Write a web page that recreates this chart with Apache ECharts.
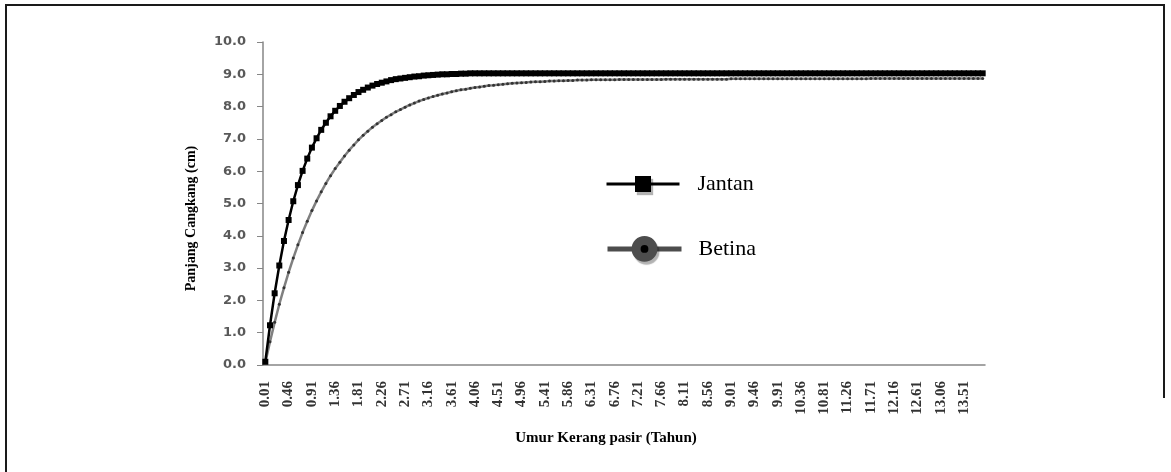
<!DOCTYPE html>
<html>
<head>
<meta charset="utf-8">
<script src="https://cdn.jsdelivr.net/npm/echarts@6/dist/echarts.min.js"></script>
<style>
html,body{margin:0;padding:0;background:#fff;}
#chart{width:1171px;height:472px;}
</style>
</head>
<body>
<div id="chart"></div>
<script>
var categories = [
"0.01","0.10","0.19","0.28","0.37","0.46","0.55","0.64","0.73","0.82",
"0.91","1.00","1.09","1.18","1.27","1.36","1.45","1.54","1.63","1.72",
"1.81","1.90","1.99","2.08","2.17","2.26","2.35","2.44","2.53","2.62",
"2.71","2.80","2.89","2.98","3.07","3.16","3.25","3.34","3.43","3.52",
"3.61","3.70","3.79","3.88","3.97","4.06","4.15","4.24","4.33","4.42",
"4.51","4.60","4.69","4.78","4.87","4.96","5.05","5.14","5.23","5.32",
"5.41","5.50","5.59","5.68","5.77","5.86","5.95","6.04","6.13","6.22",
"6.31","6.40","6.49","6.58","6.67","6.76","6.85","6.94","7.03","7.12",
"7.21","7.30","7.39","7.48","7.57","7.66","7.75","7.84","7.93","8.02",
"8.11","8.20","8.29","8.38","8.47","8.56","8.65","8.74","8.83","8.92",
"9.01","9.10","9.19","9.28","9.37","9.46","9.55","9.64","9.73","9.82",
"9.91","10.00","10.09","10.18","10.27","10.36","10.45","10.54","10.63","10.72",
"10.81","10.90","10.99","11.08","11.17","11.26","11.35","11.44","11.53","11.62",
"11.71","11.80","11.89","11.98","12.07","12.16","12.25","12.34","12.43","12.52",
"12.61","12.70","12.79","12.88","12.97","13.06","13.15","13.24","13.33","13.42",
"13.51","13.60","13.69","13.78","13.87"
];

var jantan = [
0.10,1.23,2.22,3.08,3.84,4.49,5.07,5.57,6.01,6.39,
6.73,7.02,7.28,7.50,7.70,7.87,8.02,8.15,8.26,8.36,
8.45,8.52,8.59,8.65,8.70,8.74,8.78,8.82,8.85,8.87,
8.89,8.91,8.93,8.94,8.96,8.97,8.98,8.99,9.00,9.00,
9.01,9.01,9.02,9.02,9.03,9.03,9.03,9.03,9.03,9.03,
9.03,9.03,9.03,9.03,9.03,9.03,9.03,9.03,9.03,9.03,
9.03,9.03,9.03,9.03,9.03,9.03,9.03,9.03,9.03,9.03,
9.03,9.03,9.03,9.03,9.03,9.03,9.03,9.03,9.03,9.03,
9.03,9.03,9.03,9.03,9.03,9.03,9.03,9.03,9.03,9.03,
9.03,9.03,9.03,9.03,9.03,9.03,9.03,9.03,9.03,9.03,
9.03,9.03,9.03,9.03,9.03,9.03,9.03,9.03,9.03,9.03,
9.03,9.03,9.03,9.03,9.03,9.03,9.03,9.03,9.03,9.03,
9.03,9.03,9.03,9.03,9.03,9.03,9.03,9.03,9.03,9.03,
9.03,9.03,9.03,9.03,9.03,9.03,9.03,9.03,9.03,9.03,
9.03,9.03,9.03,9.03,9.03,9.03,9.03,9.03,9.03,9.03,
9.03,9.03,9.03,9.03,9.03
];

var betina = [
0.08,0.72,1.32,1.88,2.39,2.87,3.31,3.72,4.10,4.45,
4.78,5.08,5.36,5.62,5.86,6.08,6.28,6.47,6.65,6.81,
6.97,7.11,7.24,7.36,7.47,7.57,7.67,7.75,7.84,7.91,
7.98,8.05,8.11,8.17,8.22,8.27,8.31,8.35,8.39,8.42,
8.46,8.49,8.52,8.54,8.57,8.59,8.61,8.63,8.65,8.66,
8.68,8.69,8.71,8.72,8.73,8.74,8.75,8.76,8.77,8.77,
8.78,8.79,8.79,8.80,8.80,8.81,8.81,8.82,8.82,8.82,
8.83,8.83,8.83,8.83,8.83,8.83,8.84,8.84,8.84,8.84,
8.84,8.84,8.84,8.84,8.84,8.84,8.85,8.85,8.85,8.85,
8.85,8.85,8.85,8.85,8.85,8.85,8.85,8.85,8.85,8.85,
8.86,8.86,8.86,8.86,8.86,8.86,8.86,8.86,8.86,8.86,
8.86,8.86,8.86,8.86,8.86,8.86,8.86,8.86,8.86,8.86,
8.86,8.86,8.86,8.86,8.86,8.86,8.86,8.86,8.86,8.86,
8.87,8.87,8.87,8.87,8.87,8.87,8.87,8.87,8.87,8.87,
8.87,8.87,8.87,8.87,8.87,8.87,8.87,8.87,8.87,8.87,
8.87,8.87,8.87,8.87,8.87
];

var yTicks = {min: 0, max: 10, interval: 1};
var seriesNames = ["Jantan", "Betina"];
var xTitle = "Umur Kerang pasir (Tahun)";
var yTitle = "Panjang Cangkang (cm)";

var chart = echarts.init(document.getElementById('chart'), null, {renderer: 'canvas'});
var serif = "'Liberation Serif','Times New Roman',serif";
chart.setOption({
  animation: false,
  backgroundColor: '#fff',
  graphic: [{
    type: 'polyline',
    shape: {points: [[6, 472], [6, 5], [1164, 5], [1164, 398]]},
    style: {stroke: '#1a1a1a', lineWidth: 2, fill: null},
    silent: true
  }],
  grid: {left: 263, right: 186, top: 42, bottom: 107, containLabel: false},
  legend: [{
    data: [seriesNames[0]],
    orient: 'vertical',
    left: 605, top: 173,
    padding: 0,
    itemWidth: 73, itemHeight: 20,
    selectedMode: false,
    textStyle: {fontFamily: serif, fontSize: 22, color: '#000', padding: [0, 0, 0, 13]},
    lineStyle: {color: '#000', width: 3},
    itemStyle: {color: '#000', borderWidth: 0, shadowColor: 'rgba(0,0,0,0.3)', shadowBlur: 1, shadowOffsetX: 2, shadowOffsetY: 3}
  }, {
    data: [seriesNames[1]],
    orient: 'vertical',
    left: 605, top: 236,
    padding: 0,
    itemWidth: 74, itemHeight: 21,
    selectedMode: false,
    textStyle: {fontFamily: serif, fontSize: 22, color: '#000', padding: [0, 0, 0, 12]},
    lineStyle: {color: '#4d4d4d', width: 5},
    itemStyle: {color: '#000', borderColor: '#4d4d4d', borderWidth: 9, shadowColor: 'rgba(0,0,0,0.3)', shadowBlur: 1, shadowOffsetX: 2, shadowOffsetY: 3}
  }],
  xAxis: {
    type: 'category',
    data: categories,
    boundaryGap: true,
    name: xTitle,
    nameLocation: 'middle',
    nameGap: 66,
    nameTextStyle: {fontFamily: serif, fontSize: 15, fontWeight: 'bold', color: '#000', padding: [0, 36, 0, 0]},
    axisLine: {lineStyle: {color: '#868686', width: 1.5}},
    axisTick: {show: false},
    axisLabel: {interval: 4, rotate: 90, margin: 16, fontFamily: serif, fontSize: 15, fontWeight: 'bold', color: '#333'},
    splitLine: {show: false}
  },
  yAxis: {
    type: 'value',
    min: yTicks.min, max: yTicks.max, interval: yTicks.interval,
    name: yTitle,
    nameLocation: 'middle',
    nameGap: 65,
    nameTextStyle: {fontFamily: serif, fontSize: 14, fontWeight: 'bold', color: '#000', padding: [0, 30, 0, 0]},
    axisLine: {show: true, lineStyle: {color: '#868686', width: 1.5}},
    axisTick: {show: true, length: 6, lineStyle: {color: '#868686'}},
    axisLabel: {margin: 17, fontFamily: "'DejaVu Sans',sans-serif", fontSize: 13, fontWeight: 'bold', color: '#595959',
      formatter: function (v) { return v.toFixed(1); }},
    splitLine: {show: false}
  },
  series: [{
    name: seriesNames[0],
    type: 'line',
    data: jantan,
    symbol: 'rect',
    symbolSize: 6,
    showAllSymbol: true,
    lineStyle: {color: '#000', width: 2.5},
    itemStyle: {color: '#000'},
    z: 3
  }, {
    name: seriesNames[1],
    type: 'line',
    data: betina,
    symbol: 'circle',
    symbolSize: 3,
    showAllSymbol: true,
    lineStyle: {color: '#808080', width: 2.5},
    itemStyle: {color: '#333'},
    z: 2
  }]
});
</script>
</body>
</html>
